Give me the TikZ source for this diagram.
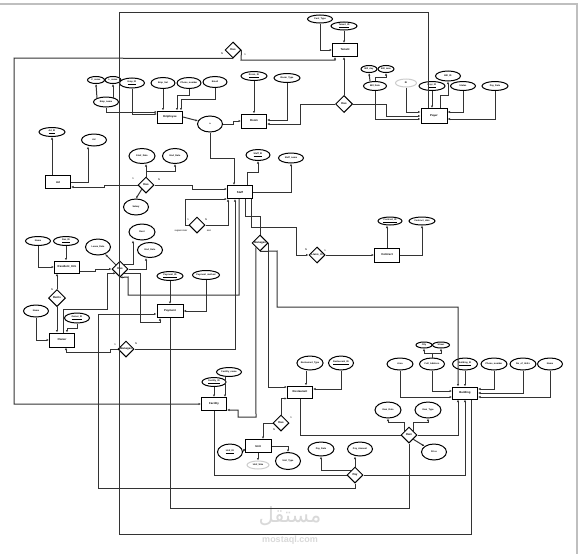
\documentclass[tikz,border=0pt]{standalone}
\usepackage{fontspec}
\setmainfont{Liberation Sans}
\newfontfamily\arabicfont[Script=Arabic]{DejaVu Sans}
\TeXXeTstate=1
\usetikzlibrary{shapes.geometric,arrows.meta,calc}
\begin{document}
\begin{tikzpicture}[x=1pt,y=-1pt,
  every node/.style={font=\fontsize{2.8}{3}\selectfont\bfseries, inner sep=0pt},
  ent/.style={draw, line width=1pt, minimum width=25pt, minimum height=13pt, fill=white},
  attr/.style={draw, ellipse, line width=1pt, minimum width=25pt, minimum height=10pt, fill=white, font=\fontsize{2.3}{2.6}\selectfont\bfseries},
  gattr/.style={attr, draw=black!20},
  rel/.style={draw, diamond, line width=1pt, minimum size=16pt, aspect=1, fill=white},
  con/.style={line width=1pt, black!80},
  ar/.style={con, -{Latex[length=2.5pt,width=2.2pt]}},
  card/.style={font=\fontsize{2.5}{3}\selectfont\bfseries, text=black!75},
]
\useasboundingbox (0,0) rectangle (580,554);
\fill[white] (0,0) rectangle (580,554);
\draw[black!25, line width=1.5pt] (0,4) -- (577,4) -- (577,554);

% watermark
\node[text=black!15, font=\arabicfont\fontsize{21}{21}\selectfont] (wm1) at (290,516) {\beginR مستقل\endR};
\node[text=black!15, font=\fontsize{9}{9}\selectfont\bfseries] (wm2) at (290,540) {mostaql.com};

% entities
\node[ent] (tenant) at (345,50) {Tenant};
\node[ent, minimum height=12pt] (emp) at (170,117) {Employee};
\node[ent, minimum height=14pt] (room) at (254,121) {Room};
\node[ent, minimum width=26pt, minimum height=15pt] (payr) at (434,116) {Payer};
\node[ent] (ad) at (58,182) {Ad};
\node[ent] (staff) at (240,192) {Staff};
\node[ent, minimum height=12pt] (resinfo) at (67,267) {Resident\_Info};
\node[ent, minimum height=14pt] (owner) at (62,340) {Owner};
\node[ent, minimum width=26pt] (payment) at (170,311) {Payment};
\node[ent, minimum height=14pt] (contract) at (387,255) {Contract};
\node[ent] (facility) at (214,404) {Facility};
\node[ent, minimum height=12pt] (rest) at (300,392) {Restaurant};
\node[ent, minimum width=26pt] (unit) at (258,446) {Unit};
\node[ent, minimum height=12pt] (building) at (465,393) {Building};

% relationships
\node[rel] (d1) at (233,50) {Has};
\node[rel, minimum size=17pt] (d2) at (344,104) {Has};
\node[rel] (dad) at (146,185) {Has};
\node[rel] (dsup) at (197,225) {};
\node[rel] (dman) at (260,243) {Manages};
\node[rel] (dlives) at (317,255) {Lives\_in};
\node[rel] (dhas) at (120,269) {Has};
\node[rel, minimum size=17pt] (drent) at (57,298) {Rents};
\node[rel] (dmg) at (126,349) {Manages};
\node[rel] (dhas2) at (281,423) {Has};
\node[rel] (dpay) at (355,475) {Pay};
\node[rel] (down) at (409,435) {Own};

% attributes
\node[attr, minimum height=8pt] (a_ct) at (320,19) {Cust\_Type};
\node[attr, minimum width=26pt, minimum height=8pt] (a_tid) at (344,26) {\underline{Tenant\_ID}};
\node[attr, minimum width=17pt, minimum height=7pt] (a_fn) at (96,80) {F\_name};
\node[attr, minimum width=16pt, minimum height=7pt] (a_ln) at (113,80) {L\_name};
\node[attr] (a_en) at (106,102) {Emp\_name};
\node[attr] (a_eid) at (132,83) {\underline{Emp\_ID}};
\node[attr, minimum width=24pt, minimum height=11pt] (a_es) at (163,83) {Emp\_Sal};
\node[attr, minimum width=24pt, minimum height=11pt] (a_ph) at (189,83) {Phone\_number};
\node[attr, minimum width=24pt, minimum height=11pt] (a_em) at (215,82) {Email};
\node[attr, minimum height=16pt] (a_r) at (210,124) {a};
\node[attr, minimum width=26pt, minimum height=9pt] (a_rid) at (254,76) {\underline{Room\_ID}};
\node[attr, minimum width=26pt, minimum height=9pt] (a_rt) at (287,78) {Room\_Type};
\node[attr, minimum width=16pt, minimum height=7pt] (a_bd1) at (369,69) {Bill\_day};
\node[attr, minimum width=16pt, minimum height=7pt] (a_bd2) at (386,69) {Bill\_mon};
\node[attr, minimum width=23pt, minimum height=9pt] (a_bd) at (375,86) {Bill\_Date};
\node[gattr, minimum width=21pt, minimum height=8pt] (a_id) at (406,83) {ID};
\node[attr, minimum width=26pt, minimum height=9pt] (a_pid) at (432,86) {\underline{Payr\_ID}};
\node[attr] (a_bid) at (448,76) {Bill\_ID};
\node[attr, minimum height=9pt] (a_pr) at (463,86) {Status};
\node[attr, minimum width=26pt, minimum height=9pt] (a_pd) at (495,86) {Pay\_Date};

\node[attr, minimum width=26pt, minimum height=9pt] (a_adid) at (52,132) {\underline{Ad\_ID}};
\node[attr, minimum height=12pt] (a_ad) at (94,140) {Ad};
\node[attr, minimum width=26pt, minimum height=15pt] (a_s1) at (142,156) {Start\_Date};
\node[attr, minimum height=15pt] (a_s2) at (175,156) {End\_Date};
\node[attr, minimum height=16pt] (a_s3) at (136,207) {Salary};
\node[attr, minimum width=24pt, minimum height=11pt] (a_sid) at (258,155) {\underline{Staff\_ID}};
\node[attr] (a_sn) at (291,158) {Staff\_name};

\node[attr, minimum height=9pt] (a_nm) at (38,241) {Name};
\node[attr, minimum height=9pt] (a_rid2) at (66,241) {\underline{Res\_ID}};
\node[attr, minimum height=16pt] (a_ld) at (98,247) {Lease\_Date};
\node[attr, minimum width=26pt, minimum height=16pt] (a_l2) at (142,232) {Rent};
\node[attr, minimum height=15pt] (a_l3) at (150,250) {End\_Date};
\node[attr, minimum width=26pt, minimum height=9pt] (a_pyid) at (170,276) {\underline{Payment\_ID}};
\node[attr, minimum height=9pt] (a_pm) at (206,275) {Payment\_method};
\node[attr, minimum height=12pt] (a_on) at (36,311) {Name};
\node[attr] (a_oid) at (77,318) {\underline{Owner\_ID}};
\node[attr, minimum width=24pt, minimum height=8pt] (a_cid) at (390,221) {\underline{Contract\_ID}};
\node[attr, minimum width=26pt, minimum height=8pt] (a_cd) at (422,221) {Contract\_date};

\node[attr, minimum width=24pt, minimum height=9pt] (a_fid) at (214,382) {\underline{Facility\_ID}};
\node[attr, minimum height=9pt] (a_fnm) at (229,372) {Facility\_name};
\node[attr, minimum width=26pt, minimum height=14pt] (a_rtp) at (310,363) {Restaurant\_Type};
\node[attr, minimum height=14pt] (a_rnm) at (341,363) {\underline{Restaurant\_ID}};
\node[attr, minimum width=26pt, minimum height=12pt] (a_b1) at (400,364) {Area};
\node[attr, minimum height=12pt] (a_b2) at (432,364) {Full\_Address};
\node[attr, minimum height=12pt] (a_b3) at (465,364) {\underline{Building\_ID}};
\node[attr, minimum width=26pt, minimum height=12pt] (a_b4) at (494,364) {Phone\_number};
\node[attr, minimum width=26pt, minimum height=12pt] (a_b5) at (523,364) {No\_of\_Units};
\node[attr, minimum height=12pt] (a_b6) at (550,364) {Name};
\node[attr, minimum width=16pt, minimum height=6pt] (a_bs1) at (424,345) {City};
\node[attr, minimum width=17pt, minimum height=6pt] (a_bs2) at (441,345) {Street};
\node[attr, minimum height=16pt] (a_uid) at (230,452) {\underline{Unit\_ID}};
\node[gattr, minimum width=22pt, minimum height=8pt] (a_ug) at (258,465) {Unit\_Size};
\node[attr, minimum height=17pt] (a_ut) at (288,461) {Unit\_Type};
\node[attr, minimum width=26pt, minimum height=14pt] (a_py1) at (321,449) {Pay\_Date};
\node[attr, minimum height=14pt] (a_py2) at (360,449) {Pay\_Amount};
\node[attr, minimum width=26pt, minimum height=16pt] (a_o1) at (388,410) {Own\_Date};
\node[attr, minimum width=26pt, minimum height=16pt] (a_o2) at (428,410) {Own\_Type};
\node[attr, minimum height=16pt] (a_o3) at (434,452) {Price};

% cardinalities
\node[card] (c1) at (222,54) {N};
\node[card] (c2) at (245,55) {1};
\node[card] (c3) at (133,179) {1};
\node[card] (c4) at (159,180) {N};
\node[card] (c5) at (188,220) {1};
\node[card] (c6) at (206,220) {N};
\node[card] (c7) at (181,231) {supervisor};
\node[card] (c8) at (209,231) {ssn};
\node[card] (c9) at (306,250) {N};
\node[card] (c10) at (325,251) {1};
\node[card] (c11) at (52,290) {N};
\node[card] (c12) at (115,345) {1};
\node[card] (c13) at (136,344) {N};
\node[card] (c14) at (291,418) {1};
\node[card] (c15) at (274,430) {N};

% long frame lines
\draw[con] ([xshift=-6pt]payr.north) -- (428,12) -- (119,12) -- (119,534) -- (471,534) -- ([xshift=6pt]building.south);
\draw[ar] (d1.south) -- (14,58) -- (14,404) -- (facility.west);
\draw[ar] (d1.east) -- (241,60) -| ([xshift=3pt]tenant.south west);

% top
\draw[ar] (a_ct.south) |- (tenant.west);
\draw[ar] (a_tid.south) -- (a_tid.south |- tenant.north);
\draw[ar] (d2.north) -- (d2.north |- tenant.south);
\draw[ar] (d2.west) -- (300,104) |- ([yshift=-3pt]room.east);
\draw[ar] (d2.east) -- (386,104) |- (payr.west);
\draw[ar] (a_bd.south) |- ([yshift=-3pt]payr.west);
\draw[ar] ([xshift=-5pt]a_bd.north) -- (a_bd1.south);
\draw[ar] (a_bd.north) -- ++(0,-4) -| (a_bd2.south);
\draw[ar] (a_id.south) |- ([yshift=4pt]payr.west);
\draw[ar] (a_pid.south) -- (a_pid.south |- payr.north);
\draw[ar] ([xshift=6pt]payr.north) |- (448,95) -- (a_bid.south);
\draw[ar] (a_pr.south) |- ([yshift=4pt]payr.east);
\draw[ar] (a_pd.south) |- ([yshift=-3pt]payr.east);

% employee
\draw[ar] (a_en) ++(-9,-3.5) -- (a_fn.south);
\draw[ar] (a_en) ++(7,-4) -- (a_ln.south);
\draw[ar] (a_en.south) |- ([yshift=5pt]emp.west);
\draw[ar] (a_eid.south) |- ([yshift=3pt]emp.west);
\draw[ar] (a_es.south) -- (a_es.south |- emp.north);
\draw[ar] (a_ph.south) -- ++(0,6) -| ([xshift=7pt]emp.north);
\draw[ar] (a_em.south) -- ++(0,11) -| ([xshift=11pt]emp.north);
\draw[ar] (emp.east) -- (a_r);
\draw[ar] (a_r.east) -- (233,124) |- (room.west);
\draw[ar] (a_r.south) -- ++(0,26) -| ([xshift=-6pt]staff.north);
\draw[ar] (a_rid.south) -- (room.north);
\draw[ar] (a_rt.south) |- ([yshift=1pt]room.east);

% ad
\draw[ar] ([xshift=-6pt]ad.north) -- (a_adid.south);
\draw[ar] (ad.east) -| ([xshift=-6pt]a_ad.south);
\draw[ar] (dad.west) -- (104,185) -- (104,187) -- ([yshift=-5pt]ad.east);
\draw[ar] (dad.east) -- (192,185) -- (192,189) -- ([yshift=3pt]staff.west);
\draw[ar] (dad.north) -- (dad.north |- a_s1.south);
\draw[ar] (dad.north) -- ++(0,-5) -| (a_s2.south);
\draw[ar] (dad.south west) -- (a_s3.north);

% staff
\draw[ar] ([xshift=7pt]staff.north) -- ++(0,-13) -| (a_sid.south);
\draw[ar] (staff.east) -| (a_sn.south);
\draw[ar] (dsup.west) -- (185,225) |- (staff.south west);
\draw[ar] (dsup.east) -| ([xshift=1pt]staff.south west);
\draw[ar] ([xshift=-1pt]staff.south) |- (128,295) -- (128,277) -- (dhas.south);
\draw[ar] (dmg.east) -| ([xshift=-5pt]staff.south);
\draw[con] ([xshift=5pt]staff.south) |- (260,216) -- (dman.north);
\draw[ar] ([xshift=11pt]staff.south) |- (296,227) |- (dlives.west);
\draw[ar] (dlives.east) -- (contract.west);
\draw[ar] (contract.north) -- (contract.north |- a_cid.south);
\draw[ar] (contract.east) -| (a_cd.south);
\draw[ar] (dman.south west) -- (256,417) -- (238,417) |- ([yshift=-6pt]facility.east);
\draw[ar] (dman.east) |- ([yshift=5pt]rest.west);
\draw[ar] (dman.south) -- (277,251) -- (277,307) -| ([xshift=-7pt]building.north);

% resident / owner
\draw[ar] (a_nm.south) |- (resinfo.west);
\draw[ar] (a_rid2.south) -- (a_rid2.south |- resinfo.north);
\draw[ar] ([yshift=-4pt]resinfo.east) -- (95,271) |- (dhas.west);
\draw[ar] (drent.north) -- (drent.north |- resinfo.south);
\draw[ar] (drent.south) -- (drent.south |- owner.north);
\draw[ar] (a_on.south) |- (owner.west);
\draw[ar] (a_oid.south) -- ++(0,5) -| ([xshift=5pt]owner.north);
\draw[ar] ([xshift=1pt]owner.north) -- (63,309) -- (107,309) |- (dhas.south west);
\draw[ar] (dmg.west) -- (110,349) -- (110,352) -- (66,352) -- ([xshift=4pt]owner.south);
\draw[ar] (dhas.north west) -- (a_ld);
\draw[ar] (dhas.north east) -| ([xshift=-9pt]a_l2.south);
\draw[ar] (dhas.east) -| ([xshift=-4pt]a_l3.south);
\draw[ar] (dhas.south east) -| (140,322) -| ([xshift=-10pt]payment.south);

% payment
\draw[ar] (a_pyid.south) -- (payment.north);
\draw[ar] (a_pm.south) |- (payment.east);
\draw[ar] (dpay.south) -- (355,488) -- (98,488) -- (98,314) -- ([yshift=-3pt]payment.west);
\draw[con] (payment.south) -- (170,508) -| (down.south);

% bottom
\draw[ar] (a_fid.south) -- (facility.north);
\draw[ar] ([xshift=-4pt]a_fnm.south) -- ([xshift=11pt]facility.north);
\draw[con] (facility.south) |- (dpay.west);
\draw[ar] ([xshift=-4pt]a_rtp.south) -- ([xshift=6pt]rest.north);
\draw[ar] (a_rnm.south) |- ([yshift=3pt]rest.east);
\draw[con] (rest.south) |- (down.west);
\draw[ar] (down.east) -| ([xshift=-7pt]building.south);
\draw[ar] (dhas2.north) |- (rest.south west);
\draw[ar] (dhas2.west) -| ([xshift=5pt]unit.north);
\draw[ar] ([yshift=-3pt]unit.west) -- (a_uid.east);
\draw[ar] (unit.south) -- (a_ug.north);
\draw[ar] (unit.east) -| (a_ut.north);
\draw[ar] (dpay.north west) -| (a_py1.south);
\draw[ar] (dpay.north) -- (dpay.north |- a_py2.south);
\draw[ar] (dpay.east) -| (building.south);
\draw[ar] (down.north west) -- ++(0,-8) -| (a_o1.south);
\draw[ar] (down.north east) -- ++(0,-8) -| (a_o2.south);
\draw[ar] (down.south east) -- (a_o3);

% building attributes
\draw[ar] (a_b1.south) |- ([yshift=-4pt]building.west);
\draw[ar] (a_b2.south) |- ([yshift=2pt]building.west);
\draw[ar] (a_b3.south) -- (building.north);
\draw[ar] (a_b4.south) |- ([yshift=4pt]building.east);
\draw[ar] (a_b5.south) |- (building.east);
\draw[ar] (a_b6.south) |- ([yshift=-4pt]building.east);
\draw[ar] (a_b2.north) -- ++(0,-4) -| (a_bs1.south);
\draw[ar] (a_b2.north) -- ++(0,-4) -| (a_bs2.south);
\end{tikzpicture}
\end{document}
